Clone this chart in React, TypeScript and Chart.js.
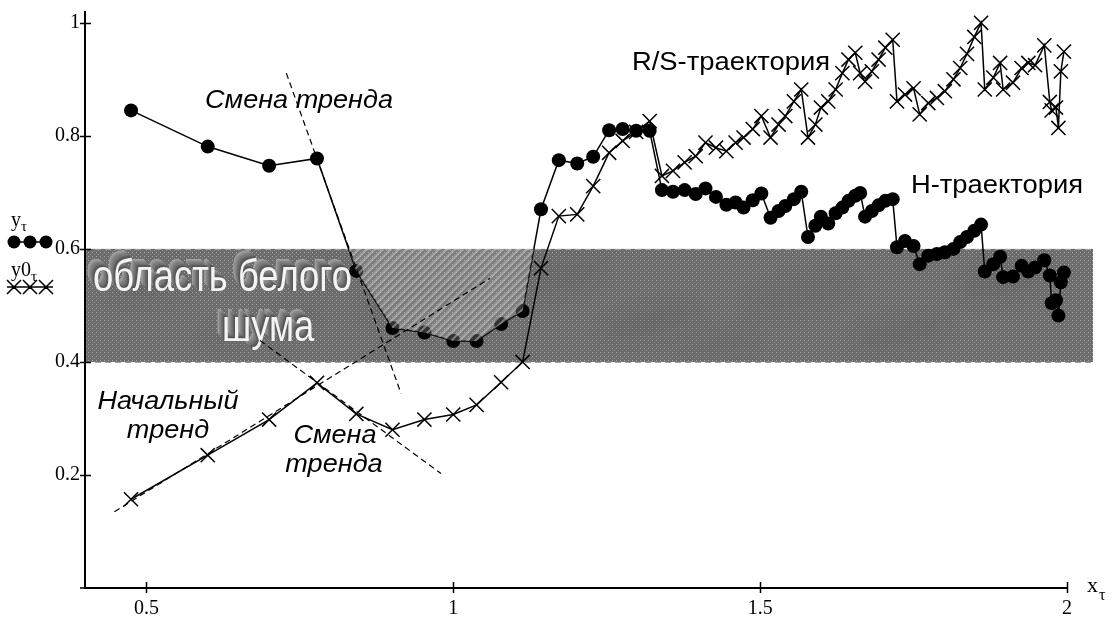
import React, { useEffect, useRef } from "react";
import { Chart, registerables } from "chart.js";

Chart.register(...registerables);

// Scale parameter τ (shared by both trajectories)
const tau = [
  0.475, 0.6, 0.7, 0.778, 0.842, 0.901, 0.953, 1.0, 1.038, 1.078, 1.113, 1.143, 1.172, 1.202, 1.228,
  1.254, 1.276, 1.298, 1.32, 1.34, 1.358, 1.377, 1.395, 1.411, 1.428, 1.445, 1.46, 1.473, 1.488, 1.502,
  1.517, 1.53, 1.541, 1.555, 1.567, 1.578, 1.59, 1.599, 1.611, 1.623, 1.634, 1.644, 1.655, 1.663, 1.671,
  1.682, 1.693, 1.704, 1.716, 1.723, 1.736, 1.75, 1.76, 1.774, 1.788, 1.801, 1.815, 1.826, 1.837, 1.849,
  1.86, 1.866, 1.88, 1.891, 1.896, 1.912, 1.926, 1.937, 1.948, 1.963, 1.972, 1.975, 1.982, 1.986, 1.99,
  1.995,
];

// H-trajectory (y_τ)
const hTraj = [
  0.845, 0.781, 0.747, 0.76, 0.561, 0.46, 0.452, 0.437, 0.437, 0.467, 0.49, 0.67, 0.757, 0.751, 0.763,
  0.81, 0.812, 0.809, 0.809, 0.704, 0.701, 0.704, 0.697, 0.707, 0.692, 0.678, 0.682, 0.673, 0.686, 0.698,
  0.655, 0.667, 0.676, 0.688, 0.701, 0.621, 0.641, 0.657, 0.645, 0.663, 0.673, 0.685, 0.694, 0.699, 0.657,
  0.667, 0.677, 0.685, 0.688, 0.603, 0.614, 0.605, 0.573, 0.588, 0.591, 0.594, 0.6, 0.612, 0.621, 0.632,
  0.643, 0.56, 0.573, 0.586, 0.55, 0.551, 0.57, 0.56, 0.567, 0.58, 0.553, 0.504, 0.509, 0.482, 0.541,
  0.558,
];

// R/S-trajectory (y0_τ)
const rsTraj = [
  0.157, 0.235, 0.298, 0.363, 0.308, 0.28, 0.298, 0.307, 0.324, 0.364, 0.4, 0.566, 0.658, 0.661, 0.711,
  0.77, 0.791, 0.807, 0.826, 0.729, 0.738, 0.753, 0.764, 0.788, 0.779, 0.773, 0.788, 0.797, 0.812, 0.835,
  0.797, 0.82, 0.835, 0.861, 0.882, 0.797, 0.82, 0.85, 0.861, 0.882, 0.911, 0.935, 0.947, 0.911, 0.896,
  0.914, 0.935, 0.956, 0.97, 0.861, 0.873, 0.884, 0.838, 0.858, 0.867, 0.879, 0.9, 0.92, 0.945, 0.975,
  1.0, 0.882, 0.903, 0.929, 0.882, 0.894, 0.92, 0.929, 0.925, 0.96, 0.86, 0.845, 0.85, 0.814, 0.914,
  0.949,
];

const xTicks = [0.5, 1, 1.5, 2];
const yTicks = [0.2, 0.4, 0.6, 0.8, 1];

// White-noise band limits
const noiseBand = [0.4, 0.6];

// Trend guide lines: [x0, y0, x1, y1]
const initialTrend = [0.448, 0.135, 1.06, 0.548];
const trendShiftUpper = [0.728, 0.911, 0.915, 0.344];
const trendShiftLower = [0.685, 0.438, 0.98, 0.2025];

const SANS = '"Liberation Sans", Arial, sans-serif';
const SERIF = '"Liberation Serif", "Times New Roman", serif';

function makeBandPattern(ctx: CanvasRenderingContext2D) {
  const c = document.createElement("canvas");
  c.width = 4;
  c.height = 4;
  const g = c.getContext("2d")!;
  g.fillStyle = "#6c6c6c";
  g.fillRect(0, 0, 4, 4);
  g.fillStyle = "#a8a8a8";
  g.fillRect(0, 0, 1, 1);
  g.fillStyle = "#8e8e8e";
  g.fillRect(2, 2, 1, 1);
  return ctx.createPattern(c, "repeat")!;
}

function makeHatchPattern(ctx: CanvasRenderingContext2D) {
  const c = document.createElement("canvas");
  c.width = 8;
  c.height = 8;
  const g = c.getContext("2d")!;
  g.fillStyle = "rgba(170,170,170,0.30)";
  g.fillRect(0, 0, 8, 8);
  g.strokeStyle = "rgba(215,215,215,0.45)";
  g.lineWidth = 2;
  g.beginPath();
  g.moveTo(-2, 10);
  g.lineTo(10, -2);
  g.moveTo(-2, 2);
  g.lineTo(2, -2);
  g.moveTo(6, 10);
  g.lineTo(10, 6);
  g.stroke();
  return ctx.createPattern(c, "repeat")!;
}

function fittedText(
  ctx: CanvasRenderingContext2D,
  text: string,
  cx: number,
  baseline: number,
  size: number,
  sx: number,
  italic: boolean,
  color = "#000"
) {
  ctx.save();
  ctx.font = `${italic ? "italic " : ""}${size}px ${SANS}`;
  const w = ctx.measureText(text).width * sx;
  ctx.translate(cx - w / 2, baseline);
  ctx.scale(sx, 1);
  ctx.fillStyle = color;
  ctx.textBaseline = "alphabetic";
  ctx.fillText(text, 0, 0);
  ctx.restore();
}

function scaleFor(ctx: CanvasRenderingContext2D, text: string, size: number, width: number, italic: boolean) {
  ctx.save();
  ctx.font = `${italic ? "italic " : ""}${size}px ${SANS}`;
  const w = ctx.measureText(text).width;
  ctx.restore();
  return width / w;
}

function extrudedText(
  ctx: CanvasRenderingContext2D,
  text: string,
  left: number,
  baseline: number,
  size: number,
  sx: number
) {
  ctx.save();
  ctx.font = `${size}px ${SANS}`;
  ctx.textBaseline = "alphabetic";
  const steps = 10;
  for (let k = steps; k >= 1; k--) {
    const t = k / steps;
    const g = Math.round(75 + 85 * t);
    ctx.fillStyle = `rgb(${g},${g},${g})`;
    ctx.save();
    ctx.translate(left - 7 * t, baseline - 8 * t);
    ctx.scale(sx, 1);
    ctx.fillText(text, 0, 0);
    ctx.restore();
  }
  ctx.save();
  ctx.translate(left, baseline);
  ctx.scale(sx, 1);
  ctx.fillStyle = "#f4f4f4";
  ctx.fillText(text, 0, 0);
  ctx.restore();
  ctx.restore();
}

const decorPlugin = {
  id: "decor",
  beforeDraw(chart: any) {
    const { ctx, chartArea, scales } = chart;
    const ys = scales.y;
    ctx.save();
    ctx.fillStyle = "#fff";
    ctx.fillRect(0, 0, chart.width, chart.height);

    const yTop = ys.getPixelForValue(noiseBand[1]);
    const yBot = ys.getPixelForValue(noiseBand[0]);
    const bx0 = chartArea.left;
    const bx1 = chartArea.right + 26;

    ctx.fillStyle = makeBandPattern(ctx);
    ctx.fillRect(bx0, yTop, bx1 - bx0, yBot - yTop);

    // soft mottling of the band
    ctx.save();
    ctx.beginPath();
    ctx.rect(bx0, yTop, bx1 - bx0, yBot - yTop);
    ctx.clip();
    ctx.filter = "blur(9px)";
    const blobs = [
      [150, 0.3, 40, 14, 0.08], [260, 0.7, 55, 12, 0.07], [420, 0.45, 60, 15, 0.06],
      [560, 0.25, 45, 14, 0.07], [650, 0.65, 50, 12, 0.08], [800, 0.4, 55, 14, 0.06],
      [900, 0.75, 50, 12, 0.07], [1000, 0.3, 45, 14, 0.07], [330, 0.2, 35, 12, 0.05],
      [720, 0.85, 40, 10, 0.06],
    ];
    for (const [bx, fy, rx, ry, a] of blobs) {
      ctx.fillStyle = `rgba(30,30,30,${a})`;
      ctx.beginPath();
      ctx.ellipse(bx, yTop + fy * (yBot - yTop), rx, ry, -0.2, 0, Math.PI * 2);
      ctx.fill();
    }
    ctx.filter = "none";
    ctx.restore();

    ctx.strokeStyle = "#a0a0a0";
    ctx.lineWidth = 1;
    ctx.setLineDash([6, 4]);
    ctx.beginPath();
    ctx.moveTo(bx0, Math.round(yTop) + 0.5);
    ctx.lineTo(bx1, Math.round(yTop) + 0.5);
    ctx.moveTo(bx0, Math.round(yBot) + 0.5);
    ctx.lineTo(bx1, Math.round(yBot) + 0.5);
    ctx.stroke();
    ctx.setLineDash([]);

    // band caption
    const size = 45;
    ctx.font = `${size}px ${SANS}`;
    const sx = 259 / ctx.measureText("область белого").width;
    extrudedText(ctx, "область белого", 93, 291, size, sx);
    extrudedText(ctx, "шума", 222, 341, size, sx);
    ctx.restore();
  },
  afterDatasetsDraw(chart: any) {
    const { ctx, scales } = chart;
    const xs = scales.x;
    const ys = scales.y;
    const top = noiseBand[1];
    ctx.save();

    // hatched dip of the H-trajectory below the band's upper edge
    let i0 = -1;
    for (let i = 1; i < tau.length; i++) {
      if (hTraj[i - 1] >= top && hTraj[i] < top) {
        i0 = i;
        break;
      }
    }
    if (i0 > 0) {
      let i1 = i0;
      while (i1 + 1 < tau.length && hTraj[i1 + 1] < top) i1++;
      const cross = (a: number, b: number) => {
        const t = (top - hTraj[a]) / (hTraj[b] - hTraj[a]);
        return tau[a] + t * (tau[b] - tau[a]);
      };
      const xa = cross(i0 - 1, i0);
      const xb = cross(i1, i1 + 1);
      ctx.beginPath();
      ctx.moveTo(xs.getPixelForValue(xa), ys.getPixelForValue(top));
      for (let i = i0; i <= i1; i++) ctx.lineTo(xs.getPixelForValue(tau[i]), ys.getPixelForValue(hTraj[i]));
      ctx.lineTo(xs.getPixelForValue(xb), ys.getPixelForValue(top));
      ctx.closePath();
      ctx.fillStyle = makeHatchPattern(ctx);
      ctx.fill();
    }

    // trend guide lines
    ctx.strokeStyle = "#000";
    ctx.lineWidth = 1.2;
    ctx.setLineDash([6, 4]);
    for (const [x0, y0, x1, y1] of [initialTrend, trendShiftUpper, trendShiftLower]) {
      ctx.beginPath();
      ctx.moveTo(xs.getPixelForValue(x0), ys.getPixelForValue(y0));
      ctx.lineTo(xs.getPixelForValue(x1), ys.getPixelForValue(y1));
      ctx.stroke();
    }
    ctx.setLineDash([]);

    // annotations
    const isz = 25;
    const isx = scaleFor(ctx, "Смена тренда", isz, 188, true);
    fittedText(ctx, "Смена тренда", 299, 108, isz, isx, true);
    fittedText(ctx, "Начальный", 168, 409, isz, isx, true);
    fittedText(ctx, "тренд", 168, 438, isz, isx, true);
    fittedText(ctx, "Смена", 335, 443, isz, isx, true);
    fittedText(ctx, "тренда", 334, 472, isz, isx, true);

    const usx = scaleFor(ctx, "R/S-траектория", 25, 198, false);
    fittedText(ctx, "R/S-траектория", 731, 70, 25, usx, false);
    fittedText(ctx, "H-траектория", 997, 193, 25, usx, false);
    ctx.restore();
  },
  afterDraw(chart: any) {
    const { ctx, chartArea, scales } = chart;
    const xs = scales.x;
    const ys = scales.y;
    ctx.save();
    ctx.strokeStyle = "#000";
    ctx.lineWidth = 1.5;
    ctx.beginPath();
    for (const v of yTicks) {
      const py = Math.round(ys.getPixelForValue(v)) + 0.5;
      ctx.moveTo(chartArea.left - 5, py);
      ctx.lineTo(chartArea.left + 6, py);
    }
    for (const v of xTicks) {
      const px = Math.round(xs.getPixelForValue(v)) + 0.5;
      ctx.moveTo(px, chartArea.bottom - 6);
      ctx.lineTo(px, chartArea.bottom + 5);
    }
    // small overhang of the horizontal axis left of the origin
    ctx.moveTo(chartArea.left - 5, chartArea.bottom);
    ctx.lineTo(chartArea.left, chartArea.bottom);
    ctx.stroke();

    // axis name
    ctx.fillStyle = "#000";
    ctx.textBaseline = "alphabetic";
    ctx.font = `22px ${SERIF}`;
    ctx.fillText("x", 1087, 592);
    ctx.font = `16px ${SERIF}`;
    ctx.fillText("τ", 1099, 600);

    // legend
    ctx.font = `20px ${SERIF}`;
    ctx.fillText("y", 11, 226);
    ctx.font = `15px ${SERIF}`;
    ctx.fillText("τ", 21, 231);

    ctx.lineWidth = 1.5;
    ctx.beginPath();
    ctx.moveTo(8, 242);
    ctx.lineTo(52, 242);
    ctx.stroke();
    for (const cx of [14, 30, 46]) {
      ctx.beginPath();
      ctx.arc(cx, 242, 6.5, 0, Math.PI * 2);
      ctx.fill();
    }

    ctx.font = `20px ${SERIF}`;
    ctx.fillText("y0", 11, 276);
    ctx.font = `15px ${SERIF}`;
    ctx.fillText("τ", 31, 281);

    ctx.beginPath();
    ctx.moveTo(7, 287);
    ctx.lineTo(53, 287);
    for (const cx of [14, 30, 46]) {
      ctx.moveTo(cx - 7, 280);
      ctx.lineTo(cx + 7, 294);
      ctx.moveTo(cx - 7, 294);
      ctx.lineTo(cx + 7, 280);
    }
    ctx.stroke();
    ctx.restore();
  },
};

export default function App() {
  const ref = useRef<HTMLCanvasElement | null>(null);

  useEffect(() => {
    document.body.style.margin = "0";
    const canvas = ref.current;
    if (!canvas) return;

    const chart = new Chart(canvas, {
      type: "line",
      data: {
        datasets: [
          {
            label: "y0τ",
            data: tau.map((x, i) => ({ x, y: rsTraj[i] })),
            borderColor: "#000",
            borderWidth: 1.5,
            pointStyle: "crossRot",
            pointRadius: 10,
            pointBorderColor: "#000",
            pointBorderWidth: 1.5,
            pointBackgroundColor: "transparent",
            tension: 0,
            clip: false as any,
          },
          {
            label: "yτ",
            data: tau.map((x, i) => ({ x, y: hTraj[i] })),
            borderColor: "#000",
            borderWidth: 1.5,
            pointStyle: "circle",
            pointRadius: 7,
            pointBackgroundColor: "#000",
            pointBorderColor: "#000",
            pointBorderWidth: 0,
            tension: 0,
            clip: false as any,
          },
        ],
      },
      options: {
        animation: false,
        responsive: false,
        devicePixelRatio: 1,
        events: [],
        layout: { padding: { top: 10, right: 46, left: 0, bottom: 0 } },
        plugins: { legend: { display: false }, tooltip: { enabled: false } },
        scales: {
          x: {
            type: "linear",
            min: 0.4,
            max: 2,
            afterBuildTicks: (s: any) => {
              s.ticks = xTicks.map((v) => ({ value: v }));
            },
            afterFit: (s: any) => {
              s.height = 29;
              s.paddingLeft = 0;
              s.paddingRight = 0;
            },
            grid: { display: false, drawTicks: false },
            border: { display: true, color: "#000", width: 2 },
            ticks: {
              color: "#000",
              font: { family: SERIF, size: 20 },
              padding: 9,
              maxRotation: 0,
              autoSkip: false,
              callback: (v: any) => String(v),
            },
          },
          y: {
            type: "linear",
            min: 0,
            max: 1.02,
            afterBuildTicks: (s: any) => {
              s.ticks = yTicks.map((v) => ({ value: v }));
            },
            afterFit: (s: any) => {
              s.width = 85;
              s.paddingTop = 0;
              s.paddingBottom = 0;
            },
            grid: { display: false, drawTicks: false },
            border: { display: true, color: "#000", width: 2 },
            ticks: {
              color: "#000",
              font: { family: SERIF, size: 20 },
              padding: 5,
              autoSkip: false,
              callback: (v: any) => String(v),
            },
          },
        },
      },
      plugins: [decorPlugin],
    });

    return () => chart.destroy();
  }, []);

  return (
    <div style={{ position: "absolute", left: 0, top: 0, width: 1113, height: 617, background: "#fff" }}>
      <canvas ref={ref} width={1113} height={617} style={{ display: "block", width: 1113, height: 617 }} />
    </div>
  );
}
